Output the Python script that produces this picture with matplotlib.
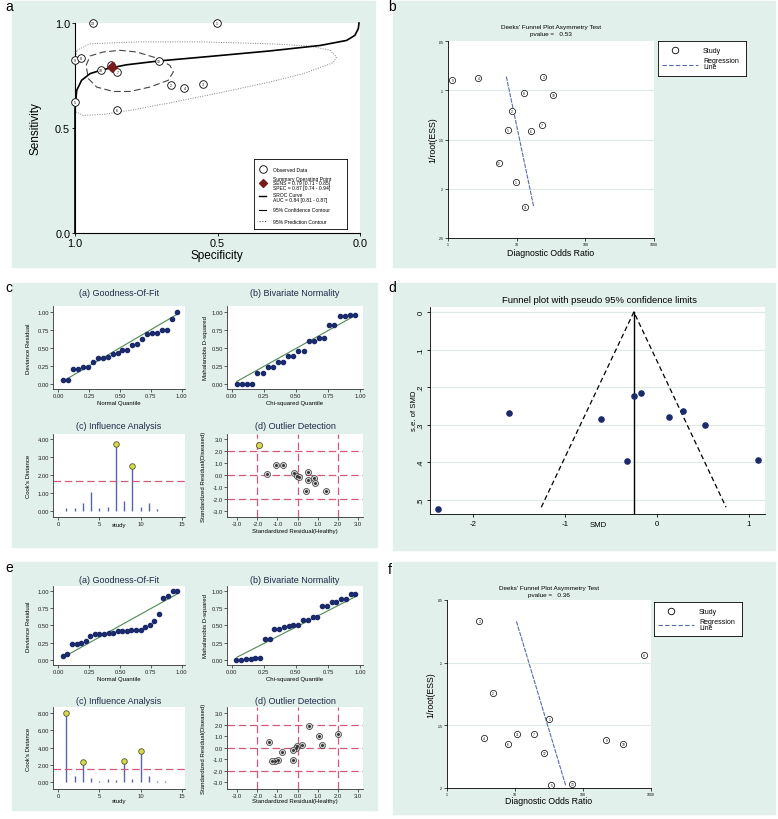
import matplotlib
matplotlib.use('Agg')
import matplotlib.pyplot as plt
from matplotlib.patches import Rectangle

plt.rcParams['font.family'] = ['Liberation Sans', 'DejaVu Sans']

W, H = 778, 820
MINT = '#e2f0eb'
NAVY = '#1b2a6b'
GREEN = '#4d8a52'
RED = '#d4587a'
STEM = '#5565a5'
YEL = '#d6da4c'
REG = '#5a6ab0'
GRID = '#dcebe5'
TITLE = '#1e2a4a'

# ---------------- data ----------------
# a: SROC plot
a_spec = [0.938, 0.502, 1.000, 0.980, 0.910, 0.872, 0.851, 0.707, 0.663, 0.616, 0.550, 1.000, 0.853]
a_sens = [1.000, 1.000, 0.823, 0.833, 0.777, 0.801, 0.767, 0.817, 0.707, 0.690, 0.711, 0.626, 0.584]
a_ids = ['13', '1', '9', '8', '10', '11', '7', '12', '2', '4', '3', '5', '6']
summ_spec, summ_sens = 0.87, 0.79
sroc_spec = [1.0, 1.0, 1.0, 0.994, 0.977, 0.947, 0.912, 0.875, 0.819, 0.708, 0.550,
             0.316, 0.140, 0.047, 0.018, 0.006, 0.0035]
sroc_sens = [0.0, 0.497, 0.592, 0.679, 0.727, 0.759, 0.774, 0.786, 0.801, 0.819, 0.838,
             0.867, 0.893, 0.917, 0.941, 0.973, 1.0]
conf_spec = [0.961, 0.947, 0.901, 0.842, 0.784, 0.713, 0.667, 0.655, 0.673, 0.737,
             0.807, 0.866, 0.924, 0.953, 0.961]
conf_sens = [0.798, 0.843, 0.862, 0.870, 0.862, 0.833, 0.798, 0.767, 0.727, 0.695,
             0.674, 0.674, 0.695, 0.735, 0.798]
pred_spec = [0.994, 0.947, 0.784, 0.550, 0.316, 0.175, 0.105, 0.082, 0.094, 0.199,
             0.316, 0.491, 0.667, 0.807, 0.901, 0.971, 0.996, 1.0, 1.0, 0.994]
pred_sens = [0.870, 0.901, 0.910, 0.910, 0.901, 0.890, 0.870, 0.838, 0.811, 0.759,
             0.719, 0.668, 0.620, 0.584, 0.565, 0.560, 0.576, 0.655, 0.780, 0.870]

# b: Deeks funnel (first analysis)
b_dor = [1.16, 2.77, 24.4, 12.8, 34.2, 8.45, 23.4, 7.39, 16.2, 5.47, 9.78, 13.2]
b_ess = [0.090, 0.0875, 0.0861, 0.1024, 0.1047, 0.1213, 0.1348, 0.1405, 0.1415, 0.1743, 0.1932, 0.2182]
b_ids = ['9', '4', '3', '8', '10', '2', '7', '5', '6', '12', '1', '11']
b_reg_dor = [7.07, 17.7]
b_reg_ess = [0.0861, 0.2182]

# c: diagnostics (first analysis)
c_q = [0.04, 0.08, 0.12, 0.16, 0.20, 0.24, 0.28, 0.32, 0.36, 0.40, 0.44, 0.48,
       0.52, 0.56, 0.60, 0.64, 0.68, 0.72, 0.76, 0.80, 0.84, 0.88, 0.92, 0.96]
c_dev = [0.055, 0.065, 0.215, 0.215, 0.235, 0.245, 0.305, 0.365, 0.365, 0.375, 0.42, 0.435,
         0.48, 0.48, 0.545, 0.56, 0.625, 0.70, 0.71, 0.71, 0.745, 0.755, 0.91, 1.0]
c_maha = [0.01, 0.01, 0.01, 0.01, 0.155, 0.155, 0.245, 0.245, 0.305, 0.305, 0.385, 0.385,
          0.455, 0.455, 0.595, 0.595, 0.645, 0.645, 0.825, 0.825, 0.94, 0.94, 0.96, 0.96]
c_fit = [0.04, 0.96]
c_fit_dev = [0.045, 0.965]
c_fit_maha = [0.04, 0.95]
c_study = [1, 2, 3, 4, 5, 6, 7, 8, 9, 10, 11, 12]
c_cook = [0.16, 0.18, 0.44, 1.05, 0.18, 0.22, 3.71, 0.55, 2.49, 0.22, 0.44, 0.09]
c_cook_cut = 1.67
c_flag = [7, 9]
c_flag_cook = [3.71, 2.49]
c_h = [-1.09, -0.71, -1.50, -0.17, -0.04, 0.06, 0.54, 0.54, 0.84, 0.87, 0.41, 1.40]
c_d = [0.87, 0.81, 0.07, 0.18, -0.04, -0.15, 0.23, -0.37, -0.23, -0.65, -1.31, -1.28]
c_out_h, c_out_d = [-1.93], [2.50]

# d: funnel plot with pseudo 95% limits
d_smd = [-2.387, -1.61, -0.608, -0.325, -0.253, -0.174, 0.127, 0.286, 0.521, 1.093]
d_se = [0.524, 0.268, 0.286, 0.397, 0.225, 0.217, 0.279, 0.263, 0.302, 0.393]
d_pooled = -0.253
d_funnel_x = [-1.26, -0.253, 0.75]
d_funnel_y = [0.52, 0.0, 0.52]

# e: diagnostics (second analysis)
e_q = [0.037, 0.074, 0.111, 0.148, 0.185, 0.222, 0.259, 0.296, 0.333, 0.370, 0.407, 0.444, 0.481,
       0.519, 0.556, 0.593, 0.630, 0.667, 0.704, 0.741, 0.778, 0.815, 0.852, 0.889, 0.926, 0.963]
e_dev = [0.053, 0.087, 0.23, 0.23, 0.25, 0.274, 0.35, 0.37, 0.375, 0.38, 0.385, 0.385, 0.413,
         0.418, 0.425, 0.428, 0.433, 0.437, 0.47, 0.51, 0.567, 0.663, 0.889, 0.928, 1.0, 1.0]
e_maha = [0.005, 0.005, 0.01, 0.015, 0.035, 0.035, 0.30, 0.30, 0.447, 0.447, 0.475, 0.49, 0.50,
          0.50, 0.577, 0.577, 0.615, 0.615, 0.784, 0.784, 0.83, 0.83, 0.875, 0.875, 0.957, 0.957]
e_fit = [0.04, 0.96]
e_fit_dev = [0.04, 0.95]
e_fit_maha = [0.04, 0.91]
e_study = [1, 2, 3, 4, 5, 6, 7, 8, 9, 10, 11, 12, 13]
e_cook = [8.0, 0.73, 2.3, 0.46, 0.15, 0.35, 0.27, 2.49, 0.35, 3.6, 0.69, 0.15, 0.15]
e_cook_cut = 1.53
e_flag = [1, 3, 8, 10]
e_flag_cook = [8.0, 2.3, 2.49, 3.6]
e_h = [0.59, 1.07, 2.0, 1.2, -1.40, -0.79, 0.21, -0.04, -0.09, -0.21, -0.21, -0.96, -1.12, -1.29]
e_d = [1.93, 1.0, 1.2, 0.25, 0.5, -0.33, 0.25, 0.13, 0.0, -0.16, -1.03, -1.03, -1.11, -1.17]

# f: Deeks funnel (second analysis)
f_dor = [2.99, 789, 4.69, 32.0, 3.54, 10.7, 18.8, 7.8, 220, 392, 27.0, 34.2, 69.7]
f_ess = [0.067, 0.0939, 0.1239, 0.1452, 0.1601, 0.1572, 0.1566, 0.1646, 0.162, 0.1649, 0.1721, 0.1979, 0.1971]
f_ids = ['3', '8', '2', '1', '4', '11', '7', '6', '9', '10', '12', '5', '13']
f_reg_dor = [10.5, 55.6]
f_reg_ess = [0.067, 0.1979]


# ---------------- helpers ----------------
def box(x0, y0, x1, y1):
    return [x0 / W, 1 - y1 / H, (x1 - x0) / W, (y1 - y0) / H]


def T(x, y, s, **kw):
    kw.setdefault('ha', 'center')
    kw.setdefault('va', 'center')
    fig.text(x / W, 1 - y / H, s, **kw)


def stata_ax(rect, size=4.2):
    ax = fig.add_axes(box(*rect))
    ax.set_facecolor('white')
    for s in ['top', 'right']:
        ax.spines[s].set_visible(False)
    for s in ['left', 'bottom']:
        ax.spines[s].set_color('#333333')
        ax.spines[s].set_linewidth(0.6)
    ax.tick_params(labelsize=size, length=2, width=0.5, pad=1, colors='#222222')
    return ax


fig = plt.figure(figsize=(W / 100, H / 100), dpi=100)

for x0, y0, x1, y1 in [(12, 2, 375, 268), (393, 2, 775, 268), (12, 284, 377, 548),
                       (393, 284, 775, 551), (12, 563, 377, 811), (393, 563, 775, 815)]:
    fig.patches.append(Rectangle((x0 / W, 1 - y1 / H), (x1 - x0) / W, (y1 - y0) / H,
                                 transform=fig.transFigure, color=MINT, zorder=-5))

for lab, x, y in [('a', 5, 7), ('b', 388, 7), ('c', 5, 288), ('d', 388, 288),
                  ('e', 5, 568), ('f', 388, 570)]:
    T(x, y, lab, fontsize=10, ha='left')

# ---------------- panel a ----------------
ax = fig.add_axes(box(75, 24, 360, 234))
ax.set_xlim(1, 0)
ax.set_ylim(0, 1)
for s in ['top', 'right']:
    ax.spines[s].set_visible(False)
ax.plot(pred_spec, pred_sens, color='#808080', lw=0.7, ls=(0, (1, 1.5)))
ax.plot(conf_spec, conf_sens, color='#444444', lw=0.8, ls=(0, (6, 3)))
ax.plot(sroc_spec, sroc_sens, color='black', lw=1.2, clip_on=False)
ax.scatter(a_spec, a_sens, s=30, facecolor='white', edgecolor='black', lw=0.6, clip_on=False, zorder=4)
for sp, se, lab in zip(a_spec, a_sens, a_ids):
    ax.text(sp, se, lab, fontsize=2.6, ha='center', va='center', zorder=5)
ax.scatter([summ_spec], [summ_sens], marker='D', s=24, color='#7a1a1a', zorder=6)
ax.set_xticks([1, 0.5, 0], ['1.0', '0.5', '0.0'])
ax.set_yticks([0, 0.5, 1], ['0.0', '0.5', '1.0'])
ax.tick_params(labelsize=7.8, length=2.5, width=0.6, pad=1)
T(217, 256, 'Specificity', fontsize=8.5)
T(35, 129, 'Sensitivity', fontsize=8.5, rotation=90)

lg = fig.add_axes(box(254, 160, 347, 230))
lg.set_xlim(0, 93)
lg.set_ylim(70, 0)
lg.set_xticks([])
lg.set_yticks([])
for s in lg.spines.values():
    s.set_linewidth(0.6)
lg.scatter([9], [10], s=30, facecolor='white', edgecolor='black', lw=0.6)
lg.scatter([9], [24], marker='D', s=16, color='#7a1a1a')
lg.plot([5, 12], [37, 37], color='black', lw=1)
lg.plot([5, 12], [51, 51], color='black', lw=0.8)
lg.plot([5, 12], [62, 62], color='#555555', lw=0.8, ls=(0, (1, 1.5)))
lg.text(19, 10, 'Observed Data', fontsize=3.6, va='center')
lg.text(19, 24, 'Summary Operating Point\nSENS = 0.79 [0.71 - 0.85]\nSPEC = 0.87 [0.74 - 0.94]',
        fontsize=3.6, va='center', linespacing=0.9)
lg.text(19, 38, 'SROC Curve\nAUC = 0.84 [0.81 - 0.87]', fontsize=3.6, va='center', linespacing=0.9)
lg.text(19, 51, '95% Confidence Contour', fontsize=3.6, va='center')
lg.text(19, 62, '95% Prediction Contour', fontsize=3.6, va='center')


# ---------------- panels b and f ----------------
def deeks(rect, dor, ess, ids, reg_dor, reg_ess, ymax, yt, ytl, title_y, pval, xlab_y, ylab_x, leg):
    ax = fig.add_axes(box(*rect))
    ax.set_xscale('log')
    ax.set_xlim(1, 1000)
    ax.set_ylim(ymax, 0.05)
    for s in ['top', 'right']:
        ax.spines[s].set_visible(False)
    for s in ['left', 'bottom']:
        ax.spines[s].set_linewidth(0.6)
    for y in yt[1:-1]:
        ax.axhline(y, color=GRID, lw=0.8, zorder=0)
    ax.plot(reg_dor, reg_ess, color=REG, lw=0.8, ls=(0, (4, 1)), zorder=2)
    ax.scatter(dor, ess, s=20, facecolor='white', edgecolor='black', lw=0.5, zorder=3, clip_on=False)
    for x, y, lab in zip(dor, ess, ids):
        ax.text(x, y, lab, fontsize=2.3, ha='center', va='center', zorder=4)
    ax.set_xticks([1, 10, 100, 1000], ['1', '10', '100', '1000'])
    ax.minorticks_off()
    ax.set_yticks(yt, ytl)
    ax.tick_params(labelsize=2.6, length=2, width=0.5, pad=1)
    cx = (rect[0] + rect[2]) / 2
    T(cx, title_y, "Deeks' Funnel Plot Asymmetry Test", fontsize=4.6)
    T(cx, title_y + 6.5, 'pvalue =   ' + pval, fontsize=4.6)
    T(cx, xlab_y, 'Diagnostic Odds Ratio', fontsize=6.3)
    T(ylab_x, (rect[1] + rect[3]) / 2, '1/root(ESS)', fontsize=6.3, rotation=90)
    lg = fig.add_axes(box(*leg))
    lg.set_xlim(0, 88)
    lg.set_ylim(34, 0)
    lg.set_xticks([])
    lg.set_yticks([])
    for s in lg.spines.values():
        s.set_linewidth(0.6)
    lg.scatter([17], [9], s=22, facecolor='white', edgecolor='black', lw=0.6)
    lg.plot([4, 40], [23, 23], color=REG, lw=0.8, ls=(0, (4, 2)))
    lg.text(45, 9, 'Study', fontsize=5, va='center')
    lg.text(45, 22, 'Regression\nLine', fontsize=5, va='center', linespacing=0.8)


deeks((448, 42, 654, 239), b_dor, b_ess, b_ids, b_reg_dor, b_reg_ess, 0.25,
      [0.05, 0.1, 0.15, 0.2, 0.25], ['.05', '.1', '.15', '.2', '.25'], 28, '0.53', 253, 433,
      (658, 42, 746, 77))
deeks((447, 601, 651, 789), f_dor, f_ess, f_ids, f_reg_dor, f_reg_ess, 0.2,
      [0.05, 0.1, 0.15, 0.2], ['.05', '.1', '.15', '.2'], 589, '0.36', 802, 431,
      (654, 603, 742, 637))


# ---------------- panels c and e ----------------
def diag(top, q, dev, fit_dev, maha, fit_maha, fit, study, cook, cut, flag, flag_cook,
         hh, dd, out_h, out_d, cook_ylim, cook_ticks, cook_tl, out_ylim, ylim_q):
    t1, b1, t2, b2, ty1, ty2, xl1, xl2, xl2d = top
    ax1 = stata_ax((53, t1, 185, b1))
    ax1.set_xlim(-0.043, 1.027)
    ax1.set_ylim(*ylim_q)
    ax1.plot(fit, fit_dev, color=GREEN, lw=0.8)
    ax1.scatter(q, dev, s=9, color=NAVY, zorder=3, clip_on=False)
    ax2 = stata_ax((227, t1, 363, b1))
    ax2.set_xlim(-0.037, 1.023)
    ax2.set_ylim(*ylim_q)
    ax2.plot(fit, fit_maha, color=GREEN, lw=0.8)
    ax2.scatter(q, maha, s=9, color=NAVY, zorder=3, clip_on=False)
    for a in (ax1, ax2):
        a.set_xticks([0, 0.25, 0.5, 0.75, 1], ['0.00', '0.25', '0.50', '0.75', '1.00'])
        a.set_yticks([0, 0.25, 0.5, 0.75, 1], ['0.00', '0.25', '0.50', '0.75', '1.00'])

    ax3 = stata_ax((53, t2, 185, b2))
    ax3.set_xlim(-0.64, 15.4)
    ax3.set_ylim(*cook_ylim)
    ax3.vlines(study, 0, cook, color=STEM, lw=1.0)
    ax3.axhline(cut, color=RED, lw=0.9, ls=(0, (6, 3)))
    ax3.scatter(flag, flag_cook, s=16, color=YEL, edgecolor='#55552a', lw=0.6, zorder=4)
    ax3.set_xticks([0, 5, 10, 15], ['0', '5', '10', '15'])
    ax3.set_yticks(cook_ticks, cook_tl)

    ax4 = stata_ax((227, t2, 363, b2))
    ax4.set_xlim(-3.51, 3.26)
    ax4.set_ylim(*out_ylim)
    for v in (-2, 0, 2):
        ax4.axhline(v, color=RED, lw=0.9, ls=(0, (6, 3)))
        ax4.axvline(v, color=RED, lw=0.9, ls=(0, (6, 3)))
    ax4.scatter(hh, dd, s=19, color='#cfcfcf', edgecolor='#3a3a3a', lw=0.5, zorder=3)
    ax4.scatter(hh, dd, s=1.2, color='#333333', zorder=4)
    if out_h:
        ax4.scatter(out_h, out_d, s=19, color=YEL, edgecolor='#55552a', lw=0.6, zorder=4)
    ticks = [-3, -2, -1, 0, 1, 2, 3]
    tl = ['-3.0', '-2.0', '-1.0', '0.0', '1.0', '2.0', '3.0']
    ax4.set_xticks(ticks, tl)
    ax4.set_yticks(ticks, tl)

    T(119, ty1, '(a) Goodness-Of-Fit', fontsize=6.5, color=TITLE)
    T(295, ty1, '(b) Bivariate Normality', fontsize=6.5, color=TITLE)
    T(119, ty2, '(c) Influence Analysis', fontsize=6.5, color=TITLE)
    T(295, ty2, '(d) Outlier Detection', fontsize=6.5, color=TITLE)
    T(119, xl1, 'Normal Quantile', fontsize=4.3)
    T(295, xl1, 'Chi-squared Quantile', fontsize=4.3)
    T(119, xl2, 'study', fontsize=4.3)
    T(295, xl2d, 'Standardized Residual(Healthy)', fontsize=4.3)
    T(29, (t1 + b1) / 2, 'Deviance Residual', fontsize=4.3, rotation=90)
    T(206, (t1 + b1) / 2, 'Mahalanobis D-squared', fontsize=4.3, rotation=90)
    T(29, (t2 + b2) / 2, "Cook's Distance", fontsize=4.3, rotation=90)
    T(204, (t2 + b2) / 2, 'Standardized Residual(Diseased)', fontsize=4.3, rotation=90)


diag((307, 390, 435, 518, 293, 427, 404, 526, 531), c_q, c_dev, c_fit_dev, c_maha, c_fit_maha, c_fit,
     c_study, c_cook, c_cook_cut, c_flag, c_flag_cook, c_h, c_d, c_out_h, c_out_d,
     (-0.33, 4.28), [0, 1, 2, 3, 4], ['0.00', '1.00', '2.00', '3.00', '4.00'],
     (-3.47, 3.41), (-0.065, 1.083))
diag((587, 666, 708, 790, 581, 702, 680, 802, 802), e_q, e_dev, e_fit_dev, e_maha, e_fit_maha, e_fit,
     e_study, e_cook, e_cook_cut, e_flag, e_flag_cook, e_h, e_d, [], [],
     (-0.77, 8.66), [0, 2, 4, 6, 8], ['0.00', '2.00', '4.00', '6.00', '8.00'],
     (-3.58, 3.55), (-0.072, 1.068))

# ---------------- panel d ----------------
ax = fig.add_axes(box(430, 308, 765, 515))
ax.set_xlim(-2.471, 1.174)
ax.set_ylim(0.538, -0.0133)
for s in ['top', 'right']:
    ax.spines[s].set_visible(False)
for s in ['left', 'bottom']:
    ax.spines[s].set_linewidth(0.6)
for y in [0, 0.1, 0.2, 0.3, 0.4, 0.5]:
    ax.axhline(y, color=GRID, lw=0.8, zorder=0)
ax.plot(d_funnel_x, d_funnel_y, color='black', lw=0.9, ls=(0, (4, 2.5)))
ax.axvline(d_pooled, ymax=(0.538 - 0) / (0.538 + 0.0133), color='black', lw=1.0)
ax.scatter(d_smd, d_se, s=14, color=NAVY, zorder=3, clip_on=False)
ax.set_xticks([-2, -1, 0, 1], ['-2', '-1', '0', '1'])
ax.set_yticks([0, 0.1, 0.2, 0.3, 0.4, 0.5], ['0', '.1', '.2', '.3', '.4', '.5'])
ax.tick_params(labelsize=5.6, length=2.5, width=0.6, pad=1.5)
for lab in ax.get_yticklabels():
    lab.set_rotation(90)
    lab.set_va('center')
T(599, 300.7, 'Funnel plot with pseudo 95% confidence limits', fontsize=6.8)
T(598, 525.5, 'SMD', fontsize=5.6)
T(415, 411, 's.e. of SMD', fontsize=5.6, rotation=90)

fig.savefig('out.png', dpi=100)
